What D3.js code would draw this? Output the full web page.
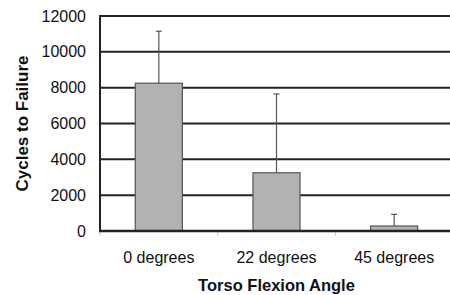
<!DOCTYPE html>
<html>
<head>
<meta charset="utf-8">
<script src="https://cdn.jsdelivr.net/npm/d3@7"></script>
<style>
  body { margin: 0; background: #fff; }
  text { font-family: "Liberation Sans", Arial, sans-serif; }
</style>
</head>
<body>
<script>
// cycles to failure by torso flexion angle

var categories = ["0 degrees", "22 degrees", "45 degrees"];
var means = [8250, 3250, 280];
var errTops = [11150, 7650, 930];
var yTicks = [0, 2000, 4000, 6000, 8000, 10000, 12000];

var W = 450, H = 295;
var plotL = 100, plotT = 16, plotB = 231, plotR = 453;

var svg = d3.select("body").append("svg")
  .attr("width", W)
  .attr("height", H);

var x = d3.scaleBand()
  .range([plotL, plotR])
  .domain(categories)
  .paddingInner(0)
  .paddingOuter(0);

var y = d3.scaleLinear()
  .range([plotB, plotT])
  .domain([0, 12000]);

var barW = x.bandwidth() * 0.4;

// gridlines
svg.append("g")
  .selectAll("line")
  .data(yTicks.slice(1))
  .enter().append("line")
  .attr("x1", plotL)
  .attr("x2", W)
  .attr("y1", function(d){ return y(d); })
  .attr("y2", function(d){ return y(d); })
  .attr("stroke", "#222")
  .attr("stroke-width", 2);

// y tick labels
var y_axis = d3.axisLeft(y)
  .tickValues(yTicks)
  .tickFormat(d3.format("d"))
  .tickSize(0)
  .tickPadding(14);

svg.append("g")
  .attr("transform", "translate(" + plotL + ",0)")
  .call(y_axis)
  .call(function(g){
    g.select(".domain").remove();
    g.selectAll(".tick text")
      .attr("font-size", 16)
      .attr("font-family", "Liberation Sans, Arial, sans-serif")
      .attr("fill", "#111");
  });

// small category ticks under x axis
svg.append("g")
  .selectAll("line")
  .data(categories)
  .enter().append("line")
  .attr("x1", function(d){ return x(d); })
  .attr("x2", function(d){ return x(d); })
  .attr("y1", plotB)
  .attr("y2", plotB + 5)
  .attr("stroke", "#ccc")
  .attr("stroke-width", 1);

// error bars
var err = svg.append("g");
err.selectAll(".ebar")
  .data(categories)
  .enter().append("line")
  .attr("x1", function(d){ return x(d) + x.bandwidth() / 2; })
  .attr("x2", function(d){ return x(d) + x.bandwidth() / 2; })
  .attr("y1", function(d, i){ return y(means[i]); })
  .attr("y2", function(d, i){ return y(errTops[i]); })
  .attr("stroke", "#555")
  .attr("stroke-width", 1.2);
err.selectAll(".ecap")
  .data(categories)
  .enter().append("line")
  .attr("x1", function(d){ return x(d) + x.bandwidth() / 2 - 3; })
  .attr("x2", function(d){ return x(d) + x.bandwidth() / 2 + 3; })
  .attr("y1", function(d, i){ return y(errTops[i]); })
  .attr("y2", function(d, i){ return y(errTops[i]); })
  .attr("stroke", "#555")
  .attr("stroke-width", 1.2);

// bars
svg.selectAll(".bar")
  .data(categories)
  .enter().append("rect")
  .attr("class", "bar")
  .attr("x", function(d){ return x(d) + (x.bandwidth() - barW) / 2; })
  .attr("y", function(d, i){ return y(means[i]); })
  .attr("width", barW)
  .attr("height", function(d, i){ return plotB - y(means[i]); })
  .attr("fill", "#b2b2b2")
  .attr("stroke", "#555")
  .attr("stroke-width", 1.2);

// axes lines
svg.append("line")
  .attr("x1", plotL).attr("x2", plotL)
  .attr("y1", plotT - 1).attr("y2", plotB + 1)
  .attr("stroke", "#222").attr("stroke-width", 2);
svg.append("line")
  .attr("x1", plotL - 1).attr("x2", W)
  .attr("y1", plotB).attr("y2", plotB)
  .attr("stroke", "#222").attr("stroke-width", 2.5);

// x labels
svg.append("g")
  .selectAll("text")
  .data(categories)
  .enter().append("text")
  .attr("x", function(d){ return x(d) + x.bandwidth() / 2; })
  .attr("y", 263)
  .attr("text-anchor", "middle")
  .attr("font-size", 16)
  .attr("fill", "#111")
  .text(function(d){ return d; });

// axis titles
svg.append("text")
  .attr("x", (plotL + plotR) / 2)
  .attr("y", 291)
  .attr("text-anchor", "middle")
  .attr("font-size", 16.5)
  .attr("font-weight", "bold")
  .attr("fill", "#111")
  .text("Torso Flexion Angle");

svg.append("text")
  .attr("transform", "translate(28," + (plotT + plotB) / 2 + ") rotate(-90)")
  .attr("text-anchor", "middle")
  .attr("font-size", 17)
  .attr("font-weight", "bold")
  .attr("fill", "#111")
  .text("Cycles to Failure");
</script>
</body>
</html>
